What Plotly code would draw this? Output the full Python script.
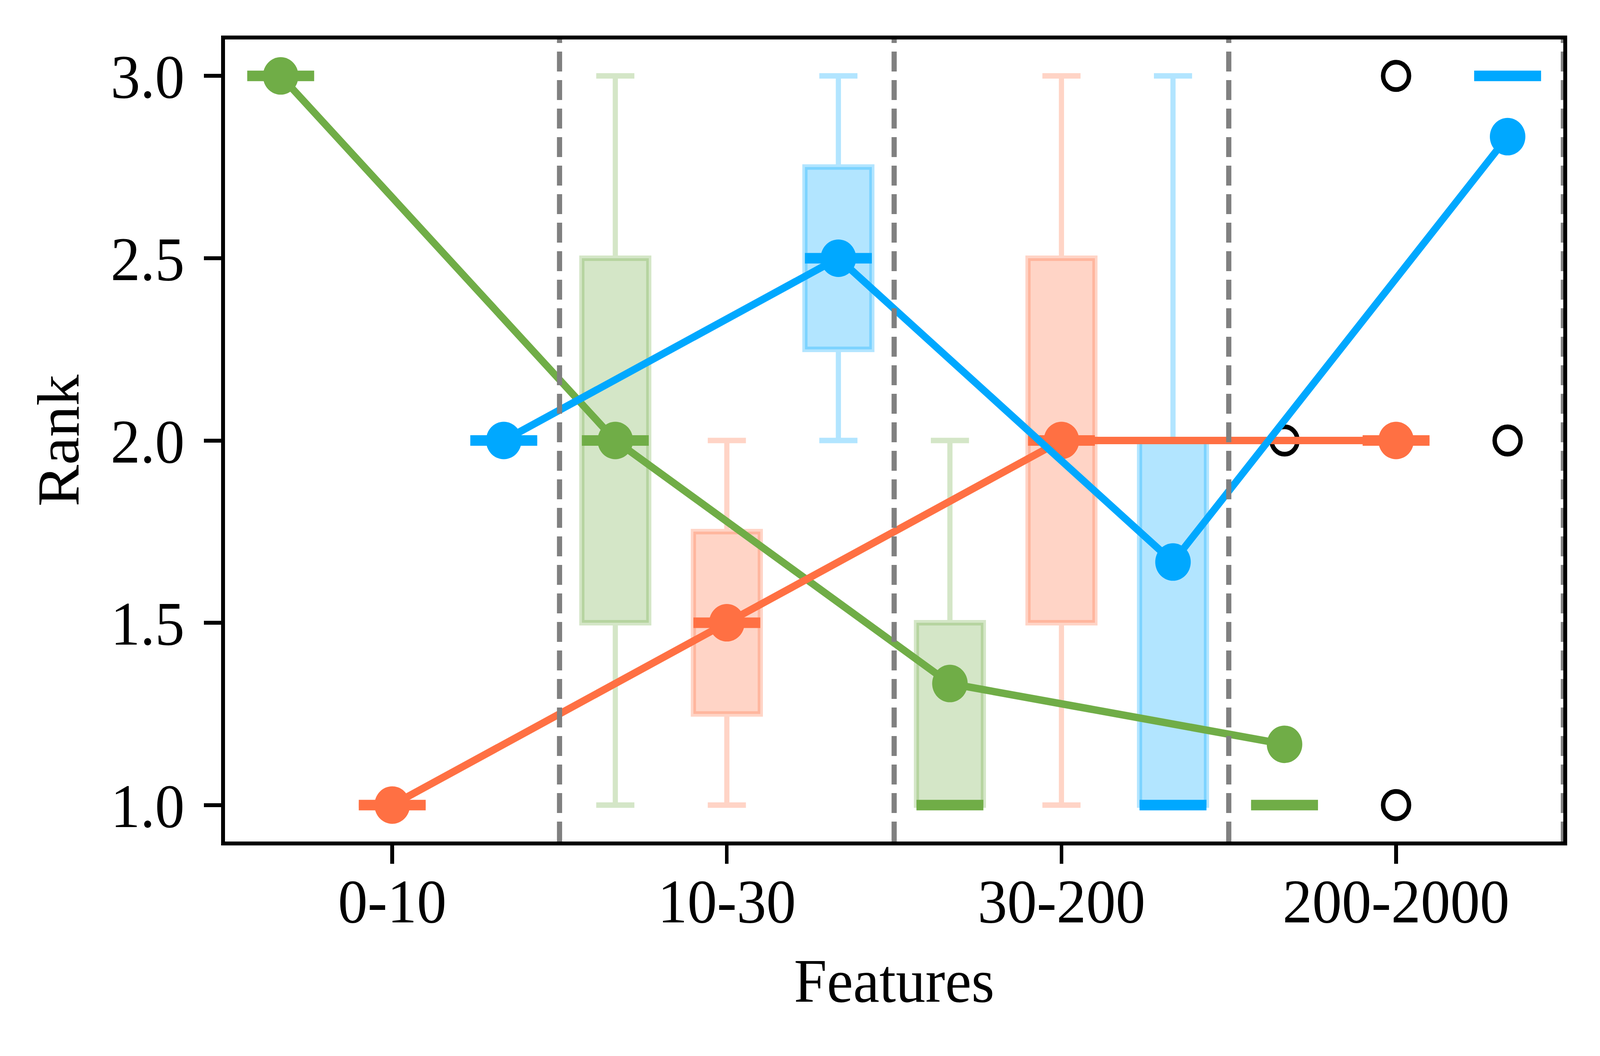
import numpy as np
import plotly.graph_objects as go

# ---------------- data ----------------
categories = ["0-10", "10-30", "30-200", "200-2000"]

# rank samples per feature-range group (one list per category)
green_ranks = [[3], [3, 1], [1, 1, 2], [1, 1, 1, 1, 1, 2]]
orange_ranks = [[1], [1, 2], [1, 2, 3], [2, 2, 2, 2, 1, 3]]
blue_ranks = [[2], [2, 3], [1, 1, 3], [3, 3, 3, 3, 3, 2]]

y_ticks = [1.0, 1.5, 2.0, 2.5, 3.0]
y_tick_labels = ["1.0", "1.5", "2.0", "2.5", "3.0"]

x_title = "Features"
y_title = "Rank"

# ---------------- style ----------------
GREEN = (112, 173, 71)
ORANGE = (255, 112, 67)
BLUE = (0, 168, 255)
series = [
    ("green", green_ranks, GREEN, -1 / 3),
    ("orange", orange_ranks, ORANGE, 0.0),
    ("blue", blue_ranks, BLUE, 1 / 3),
]
BOX_W = 0.2
Y_RANGE = [0.9, 3.1]
X_RANGE = [-0.5, len(categories) - 0.5]
FONT = "Liberation Serif"
FS = 160
W, H = 4325, 2703


def rgba(c, a):
    return f"rgba({c[0]},{c[1]},{c[2]},{a})"


def box_stats(vals):
    a = np.asarray(vals, dtype=float)
    q1, med, q3 = np.percentile(a, [25, 50, 75])
    iqr = q3 - q1
    lo, hi = q1 - 1.5 * iqr, q3 + 1.5 * iqr
    inside = a[(a >= lo) & (a <= hi)]
    out = a[(a < lo) | (a > hi)]
    return q1, med, q3, min(inside.min(), q1), max(inside.max(), q3), out


fig = go.Figure()

# translucent boxes with whiskers and caps
for name, ranks, col, off in series:
    pos = [i + off for i in range(len(categories))]
    stats = [box_stats(r) for r in ranks]
    fig.add_trace(go.Box(
        x=pos,
        q1=[s[0] for s in stats],
        median=[s[1] for s in stats],
        q3=[s[2] for s in stats],
        lowerfence=[s[3] for s in stats],
        upperfence=[s[4] for s in stats],
        width=BOX_W,
        whiskerwidth=0.57,
        fillcolor=rgba(col, 0.3),
        line=dict(color=rgba(col, 0.3), width=14),
        boxpoints=False,
        showlegend=False,
        hoverinfo="skip",
    ))

for name, ranks, col, off in series:
    pos = [i + off for i in range(len(categories))]
    stats = [box_stats(r) for r in ranks]
    # solid medians
    mx, my = [], []
    for p, s in zip(pos, stats):
        mx += [p - BOX_W / 2, p + BOX_W / 2, None]
        my += [s[1], s[1], None]
    fig.add_trace(go.Scatter(
        x=mx, y=my, mode="lines",
        line=dict(color=rgba(col, 1), width=27),
        showlegend=False, hoverinfo="skip",
    ))
    # outliers
    ox, oy = [], []
    for p, s in zip(pos, stats):
        for v in s[5]:
            ox.append(p)
            oy.append(v)
    fig.add_trace(go.Scatter(
        x=ox, y=oy, mode="markers",
        marker=dict(symbol="circle-open", size=70, color="black",
                    line=dict(width=12, color="black")),
        showlegend=False, hoverinfo="skip", cliponaxis=False,
    ))
    # mean line with dots
    means = [float(np.mean(r)) for r in ranks]
    fig.add_trace(go.Scatter(
        x=pos, y=means, mode="lines+markers",
        line=dict(color=rgba(col, 1), width=19),
        marker=dict(size=96, color=rgba(col, 1)),
        name=name, showlegend=False,
    ))

# dashed separators between categories
for i in range(len(categories)):
    b = i + 0.5
    fig.add_trace(go.Scatter(
        x=[b, b], y=Y_RANGE, mode="lines",
        line=dict(color="rgb(128,128,128)", width=14, dash="51px,22px"),
        showlegend=False, hoverinfo="skip",
    ))

axis_common = dict(
    showline=True, linecolor="black", linewidth=10, mirror=True,
    ticks="outside", ticklen=47, tickwidth=10, tickcolor="black",
    showgrid=False, zeroline=False,
    tickfont=dict(family=FONT, size=FS, color="black"),
)

fig.update_layout(
    width=W, height=H,
    margin=dict(l=608, r=99, t=101, b=549),
    paper_bgcolor="white", plot_bgcolor="white",
    font=dict(family=FONT, size=FS, color="black"),
    xaxis=dict(
        range=X_RANGE,
        tickvals=list(range(len(categories))), ticktext=categories,
        ticklabelstandoff=-42,
        **axis_common,
    ),
    yaxis=dict(
        range=Y_RANGE,
        tickvals=y_ticks, ticktext=y_tick_labels,
        ticklabelstandoff=20,
        **axis_common,
    ),
    annotations=[
        dict(text=x_title, xref="paper", yref="paper", x=0.5, y=0,
             xanchor="center", yanchor="middle", yshift=-356, showarrow=False,
             font=dict(family=FONT, size=FS, color="black")),
        dict(text=y_title, xref="paper", yref="paper", x=0, y=0.5,
             xanchor="center", yanchor="middle", xshift=-450, textangle=-90,
             showarrow=False, font=dict(family=FONT, size=FS, color="black")),
    ],
)

# fit the 4325x2703 figure to whatever viewport the page is opened in
post = """
var gd = document.getElementById('{plot_id}');
document.documentElement.style.overflow = 'hidden';
document.body.style.overflow = 'hidden';
document.body.style.margin = '0';
var sx = window.innerWidth / %d, sy = window.innerHeight / %d;
gd.style.transformOrigin = '0 0';
gd.style.transform = 'scale(' + sx + ',' + sy + ')';
""" % (W, H)

fig.write_html("out.html", post_script=post, config={"displayModeBar": False})
